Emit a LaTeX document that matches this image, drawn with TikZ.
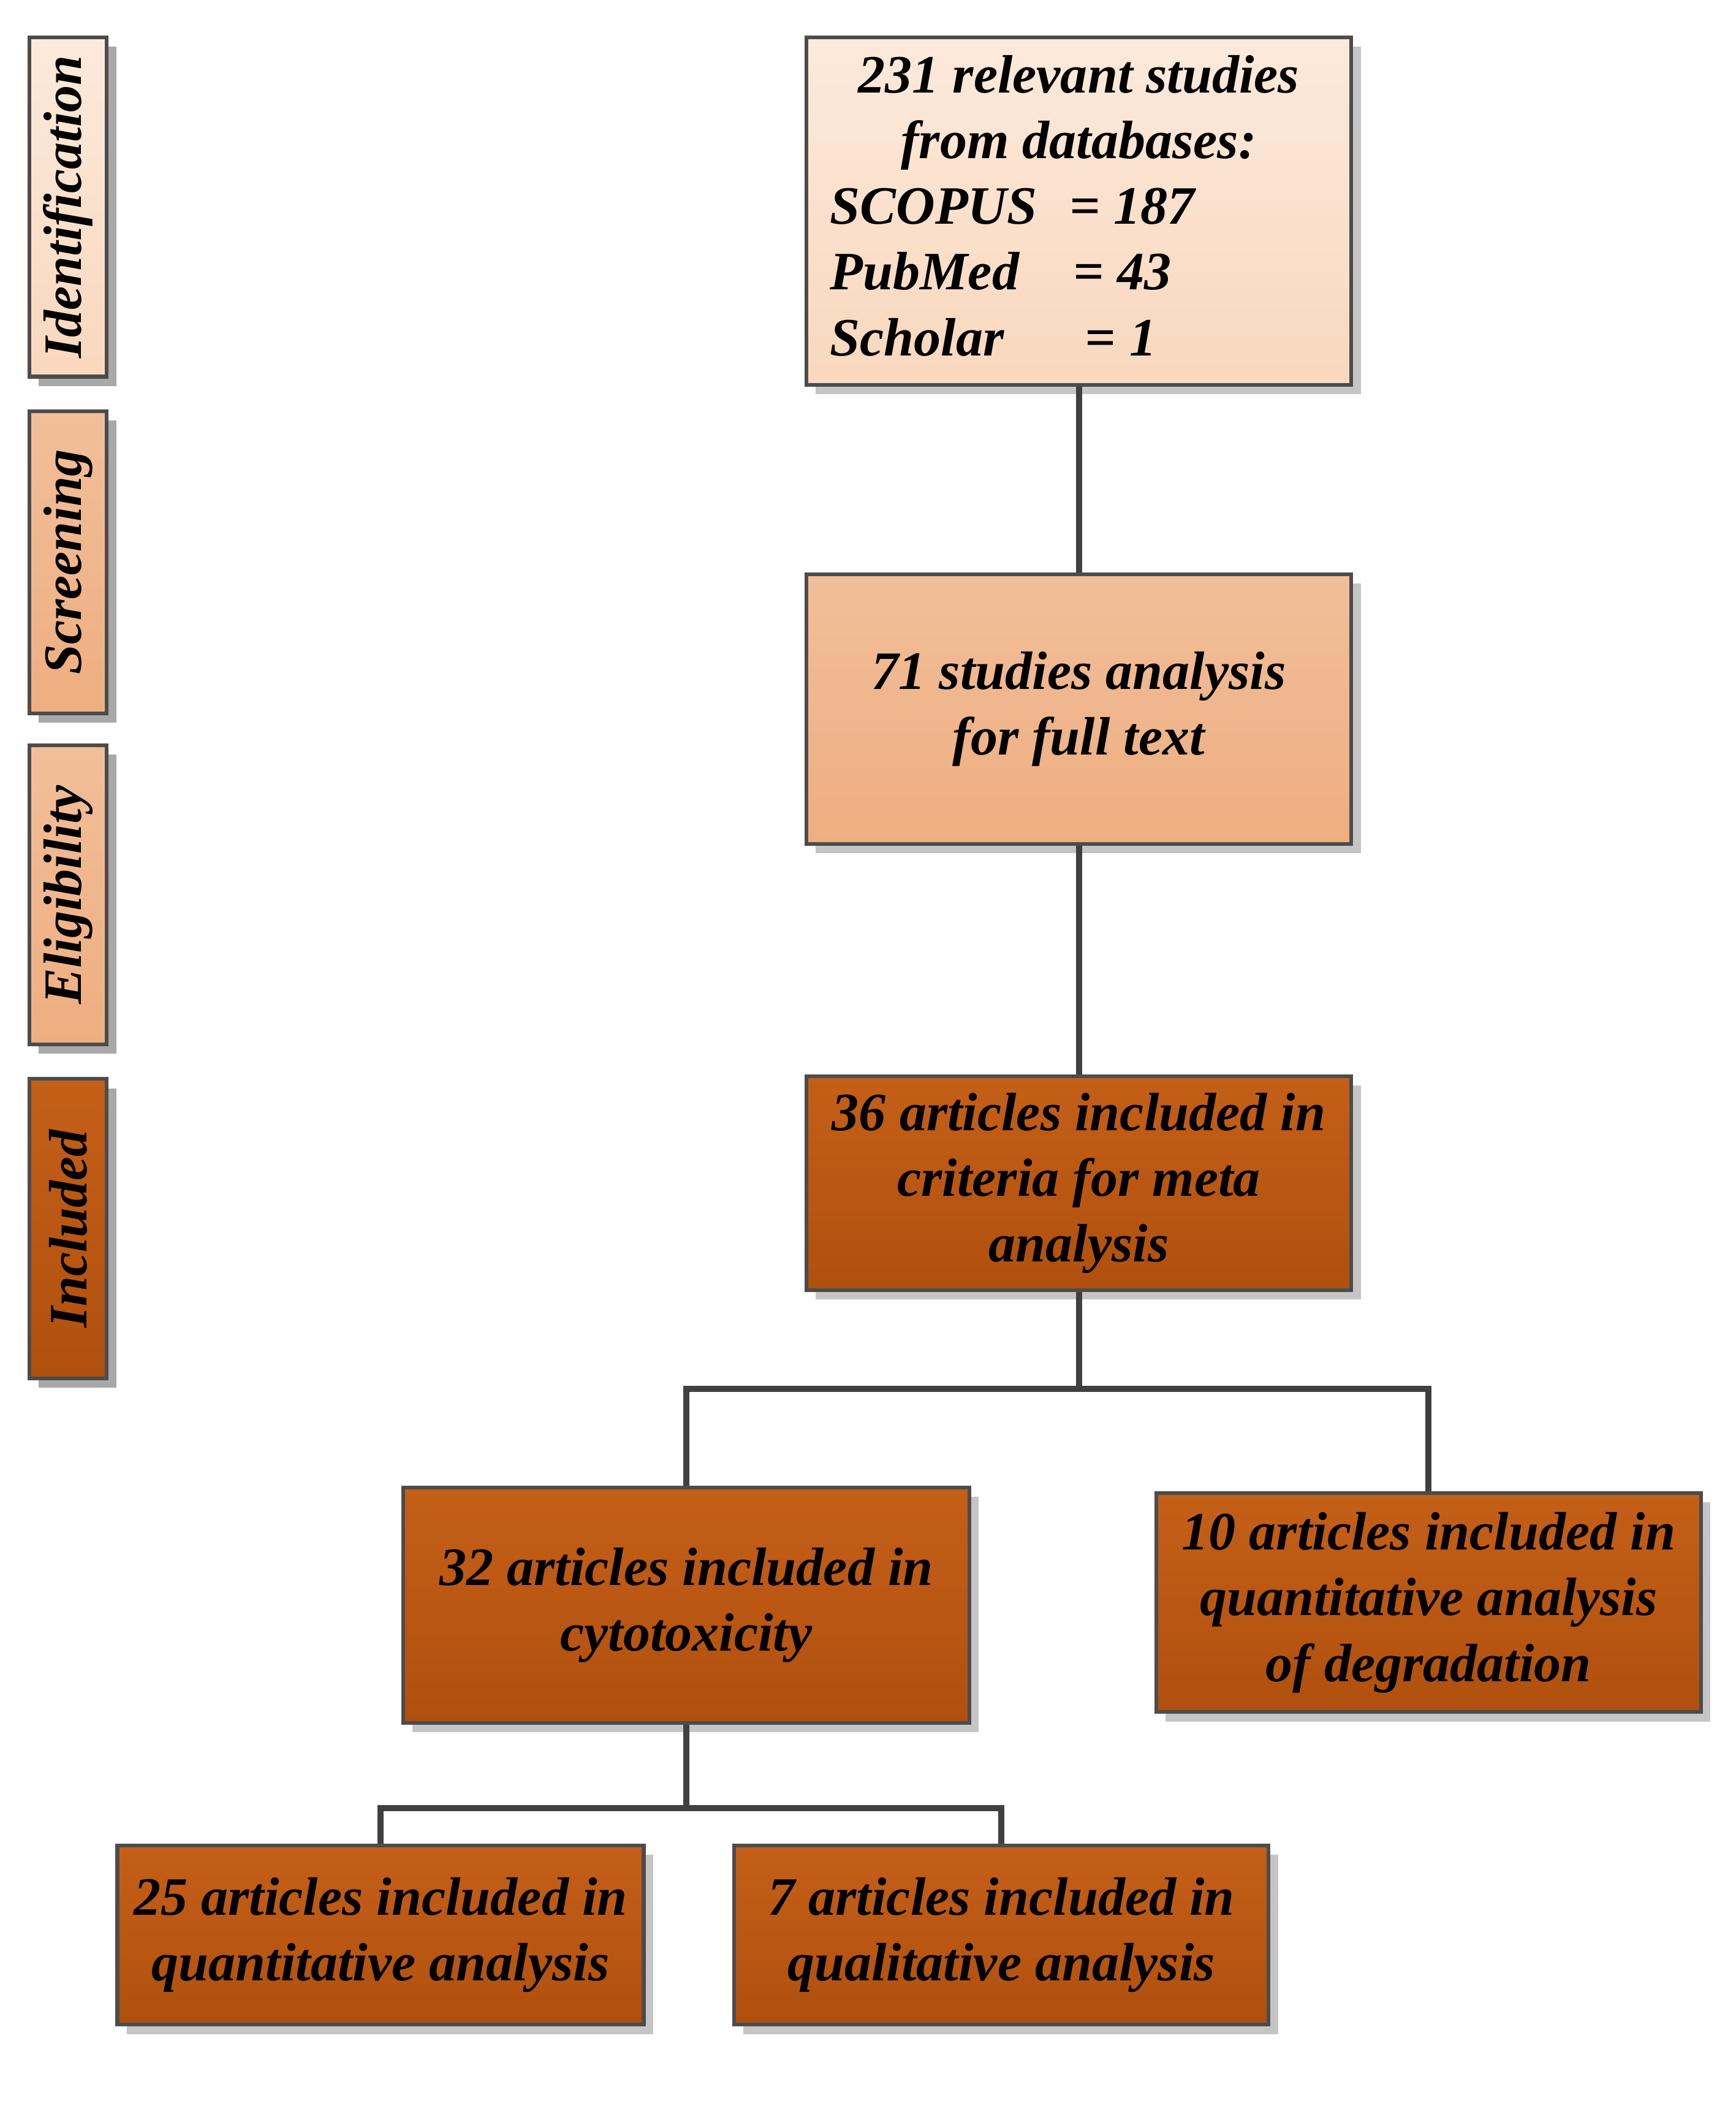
\documentclass[tikz,border=0pt]{standalone}
\usepackage{fontspec}
\setmainfont{Liberation Serif}
\usetikzlibrary{shadows}
\definecolor{pl}{HTML}{FADCC4}
\definecolor{pm}{HTML}{EEAE80}
\definecolor{pd}{HTML}{C45F18}
\definecolor{pdd}{HTML}{B0500E}
\begin{document}
\begin{tikzpicture}[x=0.01cm,y=-0.01cm,
 box/.style={draw=black!70,line width=0.8pt,drop shadow={shadow xshift=2pt,shadow yshift=-2pt,fill=black!45},align=center,
   font=\fontsize{11.5}{14}\selectfont\bfseries\itshape,inner sep=0pt},
 light/.style={box,top color=pl!60!white,bottom color=pl!90!pm},
 mid/.style={box,top color=pm!80!white,bottom color=pm},
 dark/.style={box,top color=pd,bottom color=pdd},
 side/.style={box,rotate=90,font=\fontsize{10.5}{12}\selectfont\bfseries\itshape},
 ln/.style={draw=black!75,line width=1.3pt}]
\useasboundingbox (0,0) rectangle (1300,1577);
% side labels
\node[side,light,minimum width=254\pgflinewidth*0+2.54cm,minimum height=0.58cm] (id) at (51,155) {Identification};
\node[side,mid,minimum width=2.26cm,minimum height=0.58cm] (sc) at (51,421) {Screening};
\node[side,mid,minimum width=2.24cm,minimum height=0.58cm] (el) at (51,670) {Eligibility};
\node[side,dark,minimum width=2.24cm,minimum height=0.58cm] (in) at (51,920) {Included};
% boxes
\node[light,minimum width=4.08cm,minimum height=2.60cm] (a) at (808,158) {%
 \begin{tabular}{@{}l@{}}
 \multicolumn{1}{c}{231 relevant studies}\\
 \multicolumn{1}{c}{from databases:}\\
 SCOPUS\hspace{0.6em}= 187\\
 PubMed\hspace{1.0em}= 43\\
 Scholar\hspace{1.5em}= 1
 \end{tabular}};
\node[mid,minimum width=4.08cm,minimum height=2.02cm] (b) at (808,531) {71 studies analysis\\for full text};
\node[dark,minimum width=4.08cm,minimum height=1.60cm] (c) at (808,886) {36 articles included in\\criteria for meta\\analysis};
\node[dark,minimum width=4.24cm,minimum height=1.76cm] (d) at (514,1202) {32 articles included in\\cytotoxicity};
\node[dark,minimum width=4.08cm,minimum height=1.64cm] (e) at (1070,1200) {10 articles included in\\quantitative analysis\\of degradation};
\node[dark,minimum width=3.94cm,minimum height=1.34cm] (f) at (285,1449) {25 articles included in\\quantitative analysis};
\node[dark,minimum width=4.00cm,minimum height=1.34cm] (g) at (750,1449) {7 articles included in\\qualitative analysis};
% connectors
\coordinate (j1) at (808,1040);
\coordinate (j2) at (514,1354);
\draw[ln] (a) -- (b);
\draw[ln] (b) -- (c);
\draw[ln] (c) -- (j1);
\draw[ln] (d.north) |- (j1) -| (e.north);
\draw[ln] (d) -- (j2);
\draw[ln] (f.north) |- (j2) -| (g.north);
\end{tikzpicture}
\end{document}
